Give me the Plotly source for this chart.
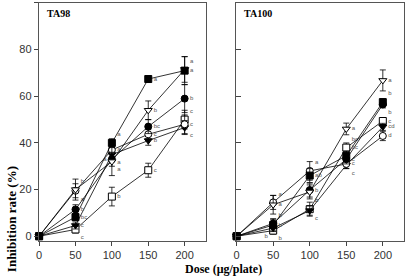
import plotly.graph_objects as go

dose = [0, 50, 100, 150, 200]
x_ticks = [0, 50, 100, 150, 200]
y_ticks = [0, 20, 40, 60, 80, 100]

# TA98 panel
ta98_fsq = [0, 8.2, 40, 67.4, 71]
ta98_fsq_err = [0, 1.5, 1.8, 1, 6]
ta98_fsq_lab = ["", "bc", "a", "a", "a"]
ta98_otri = [0, 20, 32, 54, 71.5]
ta98_otri_err = [0, 4.5, 6, 4, 5.5]
ta98_otri_lab = ["", "b", "a", "b", "a"]
ta98_fcir = [0, 11.5, 33, 47, 59]
ta98_fcir_err = [0, 2, 3, 3, 6]
ta98_fcir_lab = ["", "b", "a", "bc", "b"]
ta98_ocir = [0, 19.5, 37, 43.7, 48]
ta98_ocir_err = [0, 3, 3, 2, 4]
ta98_ocir_lab = ["", "a", "a", "c", "c"]
ta98_ftri = [0, 4.6, 35, 41, 46.6]
ta98_ftri_err = [0, 1.5, 3, 2, 3]
ta98_ftri_lab = ["", "c", "a", "b", "c"]
ta98_osq = [0, 2.9, 17, 28.3, 50]
ta98_osq_err = [0, 1.5, 4, 3, 4]
ta98_osq_lab = ["", "c", "b", "c", "c"]

# TA100 panel
ta100_otri = [0, 13.5, 19, 46, 66.8]
ta100_otri_err = [0, 4, 3, 2.5, 4.5]
ta100_otri_lab = ["", "a", "b", "a", "a"]
ta100_fsq = [0, 4.8, 26, 34.5, 57.5]
ta100_fsq_err = [0, 2.5, 3, 2, 1.5]
ta100_fsq_lab = ["", "b", "ab", "bc", "b"]
ta100_fcir = [0, 5.5, 19.8, 33, 56.5]
ta100_fcir_err = [0, 2, 3, 2, 1.5]
ta100_fcir_lab = ["", "b", "b", "c", "b"]
ta100_osq = [0, 2.4, 11.6, 38, 49.4]
ta100_osq_err = [0, 1.5, 3, 2, 1.5]
ta100_osq_lab = ["", "b", "c", "bc", "c"]
ta100_ftri = [0, 3.5, 11, 30.5, 46.9]
ta100_ftri_err = [0, 1.5, 2, 1.5, 1.5]
ta100_ftri_lab = ["", "b", "c", "c", "cd"]
ta100_ocir = [0, 14.5, 28, 31, 43]
ta100_ocir_err = [0, 3, 4, 2, 2]
ta100_ocir_lab = ["", "a", "a", "c", "d"]

MR, TR, BR, ML, BL = "middle right", "top right", "bottom right", "middle left", "bottom left"

styles = {
    "fsq": ("square", "black"),
    "otri": ("triangle-down", "white"),
    "fcir": ("circle", "black"),
    "ocir": ("circle", "white"),
    "ftri": ("triangle-down", "black"),
    "osq": ("square", "white"),
}

panels = [
    ("x", "y", [
        ("osq", ta98_osq, ta98_osq_err, ta98_osq_lab, [MR, BR, MR, MR, TR]),
        ("ftri", ta98_ftri, ta98_ftri_err, ta98_ftri_lab, [MR, MR, BR, MR, BR]),
        ("ocir", ta98_ocir, ta98_ocir_err, ta98_ocir_lab, [MR, BR, MR, MR, MR]),
        ("fcir", ta98_fcir, ta98_fcir_err, ta98_fcir_lab, [MR, MR, ML, MR, MR]),
        ("otri", ta98_otri, ta98_otri_err, ta98_otri_lab, [MR, TR, BR, MR, TR]),
        ("fsq", ta98_fsq, ta98_fsq_err, ta98_fsq_lab, [MR, MR, TR, MR, MR]),
    ]),
    ("x2", "y2", [
        ("osq", ta100_osq, ta100_osq_err, ta100_osq_lab, [MR, BR, TR, TR, MR]),
        ("ftri", ta100_ftri, ta100_ftri_err, ta100_ftri_lab, [MR, BL, BR, BR, MR]),
        ("ocir", ta100_ocir, ta100_ocir_err, ta100_ocir_lab, [MR, TR, TR, MR, MR]),
        ("fcir", ta100_fcir, ta100_fcir_err, ta100_fcir_lab, [MR, TR, MR, MR, BR]),
        ("otri", ta100_otri, ta100_otri_err, ta100_otri_lab, [MR, MR, BR, MR, MR]),
        ("fsq", ta100_fsq, ta100_fsq_err, ta100_fsq_lab, [MR, MR, MR, TR, TR]),
    ]),
]

fig = go.Figure()
for xa, ya, series in panels:
    for key, vals, errs, labs, pos in series:
        sym, fill = styles[key]
        fig.add_trace(go.Scatter(
            x=dose, y=vals, xaxis=xa, yaxis=ya,
            mode="lines+markers+text",
            text=labs, textposition=pos,
            textfont=dict(family="Arial", size=6, color="#555555"),
            line=dict(color="black", width=0.8),
            marker=dict(symbol=sym, size=7, color=fill,
                        line=dict(color="black", width=1)),
            error_y=dict(type="data", array=errs, visible=True,
                         color="black", thickness=0.8, width=3),
            showlegend=False, cliponaxis=False,
        ))

axis_common = dict(showline=True, mirror=True, linecolor="#555", linewidth=1,
                   showgrid=False, zeroline=False,
                   tickfont=dict(family="Arial", size=11, color="#333"))

fig.update_layout(
    width=407, height=278,
    margin=dict(l=0, r=0, t=0, b=0),
    paper_bgcolor="white", plot_bgcolor="white",
    xaxis=dict(domain=[36/407, 205/407], range=[-0.5, 230], tickvals=x_ticks,
               ticks="outside", ticklen=4, anchor="y", **axis_common),
    yaxis=dict(domain=[1-242/278, 1-3/278], range=[-2.1, 100], tickvals=y_ticks,
               ticks="outside", ticklen=4, anchor="x", **axis_common),
    xaxis2=dict(domain=[235/407, 404/407], range=[-0.5, 229], tickvals=x_ticks,
                ticks="outside", ticklen=4, anchor="y2", **axis_common),
    yaxis2=dict(domain=[1-242/278, 1-3/278], range=[-2.1, 100], tickvals=y_ticks,
                ticks="inside", ticklen=5, showticklabels=False, anchor="x2",
                **axis_common),
    annotations=[
        dict(text="<b>TA98</b>", x=42/407, y=1-14/278, xref="paper", yref="paper",
             xanchor="left", yanchor="middle", showarrow=False,
             font=dict(family="Liberation Serif", size=10, color="black")),
        dict(text="<b>TA100</b>", x=241/407, y=1-14/278, xref="paper", yref="paper",
             xanchor="left", yanchor="middle", showarrow=False,
             font=dict(family="Liberation Serif", size=10, color="black")),
        dict(text="<b>Inhibition rate (%)</b>", x=8/407, y=1-220/278,
             xref="paper", yref="paper", textangle=-90, showarrow=False,
             xanchor="center", yanchor="middle",
             font=dict(family="Liberation Serif", size=13, color="black")),
        dict(text="<b>Dose (μg/plate)</b>", x=222/407, y=1-270/278,
             xref="paper", yref="paper", showarrow=False,
             xanchor="center", yanchor="middle",
             font=dict(family="Liberation Serif", size=12, color="black")),
    ],
)

fig.write_html("out.html")
